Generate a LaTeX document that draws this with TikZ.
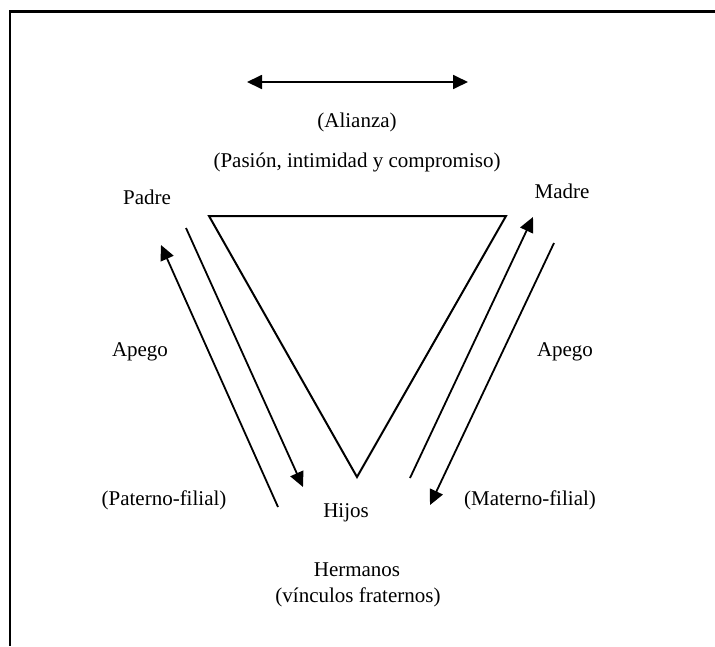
\documentclass[tikz,border=0pt]{standalone}
\usepackage{fontspec}
\setmainfont{Liberation Serif}
\usetikzlibrary{arrows.meta}
\begin{document}
\begin{tikzpicture}[x=1pt,y=-1pt,
  lbl/.style={inner sep=0pt,font=\fontsize{21}{25}\selectfont},
  ln/.style={line width=1.8pt},
  arr/.style={ln,-{Triangle[length=15pt,width=14pt]}},
  darr/.style={ln,{Triangle[length=15pt,width=14pt]}-{Triangle[length=15pt,width=14pt]}}]
\useasboundingbox (0,0) rectangle (715,646);
% frame
\coordinate (fTL) at (10,11.5);
\coordinate (fTR) at (715,11.5);
\coordinate (fBL) at (10,646);
\draw[line width=2.2pt] (fTR) -- (fTL) -- (fBL);
% top arrow
\coordinate (aL) at (247,82);
\coordinate (aR) at (468,82);
\draw[darr] (aL) -- (aR);
% labels
\node[lbl] (alianza) at (357,122) {(Alianza)};
\node[lbl] (pasion) at (357,162) {(Pasión, intimidad y compromiso)};
\node[lbl] (padre) at (147,197) {Padre};
\node[lbl] (madre) at (562,191) {Madre};
\node[lbl] (apegoL) at (140,352) {Apego};
\node[lbl] (apegoR) at (565,352) {Apego};
\node[lbl] (paterno) at (164,500) {(Paterno-filial)};
\node[lbl] (materno) at (530,500) {(Materno-filial)};
\node[lbl] (hijos) at (346,513) {Hijos};
\node[lbl] (hermanos) at (357,570) {Hermanos};
\node[lbl] (vinculos) at (358,597) {(vínculos fraternos)};
% triangle
\coordinate (t1) at (209,216);
\coordinate (t2) at (506,216);
\coordinate (t3) at (357,477);
\draw[line width=2pt,line join=miter] (t1) -- (t2) -- (t3) -- cycle;
% side arrows
\coordinate (l1s) at (278,507);
\coordinate (l1e) at (161,245);
\coordinate (l2s) at (186,228);
\coordinate (l2e) at (303,487);
\coordinate (r1s) at (410,478);
\coordinate (r1e) at (533,217);
\coordinate (r2s) at (554,243);
\coordinate (r2e) at (430,505);
\draw[arr] (l1s) -- (l1e);
\draw[arr] (l2s) -- (l2e);
\draw[arr] (r1s) -- (r1e);
\draw[arr] (r2s) -- (r2e);
\end{tikzpicture}
\end{document}
